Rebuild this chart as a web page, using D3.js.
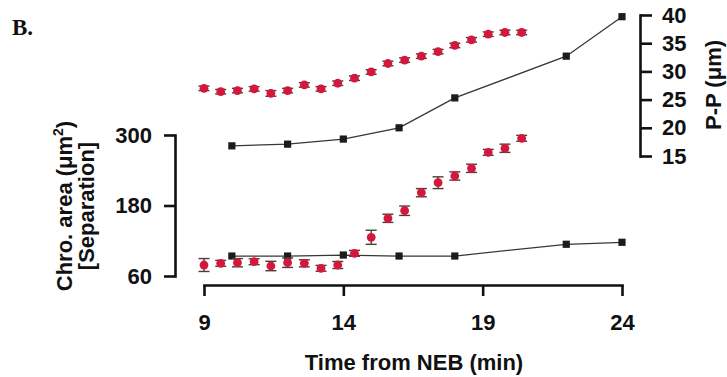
<!DOCTYPE html>
<html>
<head>
<meta charset="utf-8">
<script src="https://cdn.jsdelivr.net/npm/d3@7"></script>
<style>
body{margin:0;background:#fff;}
svg{display:block;}
.axis path,.axis line{stroke:#111;stroke-width:2.6px;}
.axis text{font-family:"Liberation Sans",Arial,sans-serif;font-weight:bold;font-size:22px;fill:#111;}
.lbl{font-family:"Liberation Sans",Arial,sans-serif;font-weight:bold;font-size:22px;fill:#111;}
</style>
</head>
<body>
<div class="container"></div>
<script>
// time points (min from NEB)
var dotTimes=[9,9.6,10.2,10.8,11.4,12,12.6,13.2,13.8,14.4,15,15.6,16.2,16.8,17.4,18,18.6,19.2,19.8,20.4];
var sqTimes=[10,12,14,16,18,22,24];

// top panel, right axis P-P (um)
var ppDots=[27.0,26.4,26.6,26.9,26.1,26.6,27.6,26.9,27.9,28.8,29.9,31.4,32.0,32.7,33.5,34.6,35.6,36.6,36.9,36.9];
var ppDotsErr=[0.4,0.4,0.4,0.4,0.5,0.4,0.4,0.4,0.4,0.4,0.4,0.4,0.4,0.4,0.4,0.4,0.4,0.4,0.4,0.4];
var ppSquares=[16.8,17.1,18.0,20.0,25.3,32.7,39.7];

// bottom panel, left axis chro. area
var areaDots=[78.7,81.6,82.6,84.3,77.0,82.6,81.6,73.1,78.7,98.6,125.9,158.2,171.1,201.8,218.8,230.2,243.3,270.5,277.4,294.4];
var areaDotsErr=[11,5,7,5,8,8,6,5,6,5,12,7,8,7,10,7,7,5,7,5];
var sepSquares=[94.0,94.0,95.7,94.0,94.0,114.0,117.4];

var xTicks=[9,14,19,24];
var leftTicks=[60,180,300];
var rightTicks=[15,20,25,30,35,40];

var width=727;
var height=377;
var red="#d3173d";
var sqColor="#1c1c1c";
var lineColor="#3b372e";

var svg=d3.select(".container").append("svg").attr("width",width).attr("height",height);

var x=d3.scaleLinear().domain([9,24]).range([204,622]);
var yL=d3.scaleLinear().domain([60,300]).range([276,135]);
var yR=d3.scaleLinear().domain([15,40]).range([156,15]);

// axes
svg.append("g").attr("class","axis").attr("transform","translate(0,285)")
    .call(d3.axisBottom(x).tickValues(xTicks).tickSize(11).tickSizeOuter(0).tickPadding(18).tickFormat(d3.format("d")));
svg.append("g").attr("class","axis").attr("transform","translate(175,0)")
    .call(d3.axisLeft(yL).tickValues(leftTicks).tickSize(11).tickSizeOuter(0).tickPadding(12));
svg.append("g").attr("class","axis").attr("transform","translate(640,0)")
    .call(d3.axisRight(yR).tickValues(rightTicks).tickSize(12).tickSizeOuter(0).tickPadding(10));
svg.selectAll(".domain").attr("stroke-linecap","square");

function drawLine(times,vals,scale){
    var line=d3.line().x(function(d,i){return x(times[i]);}).y(function(d){return scale(d);});
    svg.append("path").datum(vals).attr("d",line)
        .attr("fill","none").attr("stroke",lineColor).attr("stroke-width",1.3);
}
function drawSquares(times,vals,scale){
    svg.append("g").selectAll("rect").data(vals).enter().append("rect")
        .attr("x",function(d,i){return x(times[i])-3.6;})
        .attr("y",function(d){return scale(d)-3.6;})
        .attr("width",7.2).attr("height",7.2)
        .attr("fill",sqColor);
}
function drawDots(times,vals,errs,scale){
    var g=svg.append("g");
    var pts=vals.map(function(v,i){return {t:times[i],v:v,e:errs[i]};});
    var bars=g.selectAll(".eb").data(pts).enter().append("g").attr("class","eb")
        .attr("stroke","#4a3f33").attr("stroke-width",1.4);
    bars.append("line")
        .attr("x1",function(d){return x(d.t);}).attr("x2",function(d){return x(d.t);})
        .attr("y1",function(d){return scale(d.v+d.e);}).attr("y2",function(d){return scale(d.v-d.e);});
    bars.append("line")
        .attr("x1",function(d){return x(d.t)-5.5;}).attr("x2",function(d){return x(d.t)+5.5;})
        .attr("y1",function(d){return scale(d.v+d.e);}).attr("y2",function(d){return scale(d.v+d.e);});
    bars.append("line")
        .attr("x1",function(d){return x(d.t)-5.5;}).attr("x2",function(d){return x(d.t)+5.5;})
        .attr("y1",function(d){return scale(d.v-d.e);}).attr("y2",function(d){return scale(d.v-d.e);});
    g.selectAll("circle").data(pts).enter().append("circle")
        .attr("cx",function(d){return x(d.t);})
        .attr("cy",function(d){return scale(d.v);})
        .attr("r",4.4).attr("fill",red);
}

// top panel
drawLine(sqTimes,ppSquares,yR);
drawSquares(sqTimes,ppSquares,yR);
drawDots(dotTimes,ppDots,ppDotsErr,yR);

// bottom panel
drawLine(sqTimes,sepSquares,yL);
drawSquares(sqTimes,sepSquares,yL);
drawDots(dotTimes,areaDots,areaDotsErr,yL);

// labels
svg.append("text").attr("x",12).attr("y",35)
    .attr("font-family","'Liberation Serif','Times New Roman',serif").attr("font-weight","bold")
    .attr("font-size","23px").attr("fill","#111").text("B.");

svg.append("text").attr("class","lbl").attr("x",414).attr("y",370)
    .attr("text-anchor","middle").text("Time from NEB (min)");

var yl=svg.append("text").attr("class","lbl").attr("text-anchor","middle")
    .attr("transform","translate(72,206) rotate(-90)");
yl.append("tspan").text("Chro. area (μm");
yl.append("tspan").attr("font-size","14px").attr("dy",-9).text("2");
yl.append("tspan").attr("dy",9).text(")");

svg.append("text").attr("class","lbl").attr("text-anchor","middle")
    .attr("transform","translate(94,206) rotate(-90)").text("[Separation]");

svg.append("text").attr("class","lbl").attr("text-anchor","middle")
    .attr("transform","translate(721,85) rotate(-90)").text("P-P (μm)");
</script>
</body>
</html>
